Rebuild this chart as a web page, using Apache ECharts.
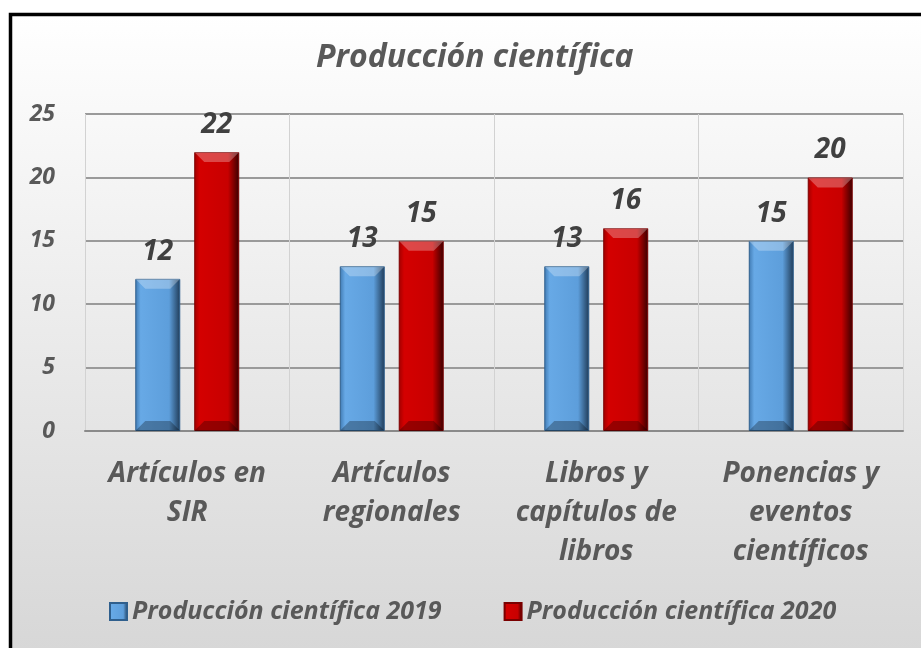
<!DOCTYPE html>
<html>
<head>
<meta charset="utf-8">
<script src="https://cdn.jsdelivr.net/npm/echarts@6/dist/echarts.min.js"></script>
<style>
    html, body { margin: 0; padding: 0; background: #fff; }
    #chart { width: 921px; height: 648px; }
</style>
</head>
<body>
<div id="chart"></div>
<script>
    var categories = ['Artículos en\nSIR', 'Artículos\nregionales', 'Libros y\ncapítulos de\nlibros', 'Ponencias y\neventos\ncientíficos']
    var seriesNames = ['Producción científica 2019', 'Producción científica 2020']
    var values2019 = [12, 13, 13, 15]
    var values2020 = [22, 15, 16, 20]
    var yTicks = [0, 5, 10, 15, 20, 25]

    var FONT = 'Open Sans'
    var TEXT = '#595959'
    var BAR_W = 45
    var BAR_OFFSET = 29.5

    function barGradient(edge, light, base, dark) {
        return new echarts.graphic.LinearGradient(0, 0, 1, 0, [
            { offset: 0, color: edge },
            { offset: 0.12, color: light },
            { offset: 0.75, color: base },
            { offset: 1, color: dark }
        ])
    }

    var blue = barGradient('#3f79b1', '#67a9e6', '#5d9edb', '#1f3a56')
    var red = barGradient('#a00000', '#d40000', '#c80000', '#380000')

    // bevel on top and bottom of each bar, placed through the axes
    function bevel(offset) {
        return function (params, api) {
            var top = api.coord([api.value(0), api.value(1)])
            var base = api.coord([api.value(0), 0])
            var x0 = top[0] + offset - BAR_W / 2
            var x1 = x0 + BAR_W
            var b = 10
            return {
                type: 'group',
                children: [
                    {
                        type: 'polygon',
                        shape: { points: [[x0, top[1]], [x1, top[1]], [x1 - b, top[1] + b], [x0 + b, top[1] + b]] },
                        style: { fill: 'rgba(255,255,255,0.28)' }
                    },
                    {
                        type: 'polygon',
                        shape: { points: [[x0, base[1]], [x1, base[1]], [x1 - b, base[1] - b], [x0 + b, base[1] - b]] },
                        style: { fill: 'rgba(0,0,0,0.28)' }
                    }
                ]
            }
        }
    }

    function pairs(values) {
        return values.map(function (v, i) { return [i, v] })
    }

    var labelStyle = {
        show: true, position: 'top', distance: 13,
        fontFamily: FONT, fontStyle: 'italic', fontWeight: 'bold', fontSize: 28, color: '#404040'
    }

    var chart = echarts.init(document.getElementById('chart'))
    chart.setOption({
        animation: false,
        graphic: [{
            type: 'rect',
            z: -10,
            shape: { x: 10.5, y: 14.5, width: 930, height: 650 },
            style: {
                fill: new echarts.graphic.LinearGradient(0, 0, 0, 1, [
                    { offset: 0, color: '#ffffff' },
                    { offset: 1, color: '#d6d6d6' }
                ]),
                stroke: '#000',
                lineWidth: 3.5
            }
        }],
        title: {
            text: 'Producción científica',
            left: 311,
            top: 37,
            textStyle: { fontFamily: FONT, fontStyle: 'italic', fontWeight: 'bold', fontSize: 32, color: TEXT }
        },
        legend: {
            data: seriesNames,
            bottom: 19,
            left: 104,
            itemWidth: 17,
            itemHeight: 17,
            itemGap: 62,
            icon: 'rect',
            textStyle: { fontFamily: FONT, fontStyle: 'italic', fontWeight: 'bold', fontSize: 25, color: TEXT }
        },
        grid: { left: 85, right: 18, top: 114, bottom: 217 },
        xAxis: {
            type: 'category',
            data: categories,
            axisLine: { lineStyle: { color: '#8a8a8a', width: 2 } },
            axisTick: { show: false },
            splitLine: { show: true, lineStyle: { color: '#d2d2d2', width: 1 } },
            axisLabel: {
                fontFamily: FONT, fontStyle: 'italic', fontWeight: 'bold', fontSize: 28,
                color: TEXT, lineHeight: 39, margin: 24, interval: 0
            }
        },
        yAxis: {
            type: 'value',
            min: yTicks[0],
            max: yTicks[yTicks.length - 1],
            interval: 5,
            axisLine: { show: false },
            axisTick: { show: false },
            splitLine: { lineStyle: { color: '#9a9a9a', width: 2 } },
            axisLabel: {
                fontFamily: FONT, fontStyle: 'italic', fontWeight: 'bold', fontSize: 23,
                color: TEXT, margin: 30
            }
        },
        series: [
            {
                name: seriesNames[0],
                type: 'bar',
                data: values2019,
                barWidth: BAR_W,
                barGap: '31%',
                itemStyle: { color: blue, borderColor: '#2f5f8d', borderWidth: 1 },
                label: labelStyle
            },
            {
                name: seriesNames[1],
                type: 'bar',
                data: values2020,
                barWidth: BAR_W,
                itemStyle: { color: red, borderColor: '#7a0000', borderWidth: 1 },
                label: labelStyle
            },
            {
                type: 'custom',
                renderItem: bevel(-BAR_OFFSET),
                data: pairs(values2019),
                z: 5,
                silent: true
            },
            {
                type: 'custom',
                renderItem: bevel(BAR_OFFSET),
                data: pairs(values2020),
                z: 5,
                silent: true
            }
        ]
    })
</script>
</body>
</html>
